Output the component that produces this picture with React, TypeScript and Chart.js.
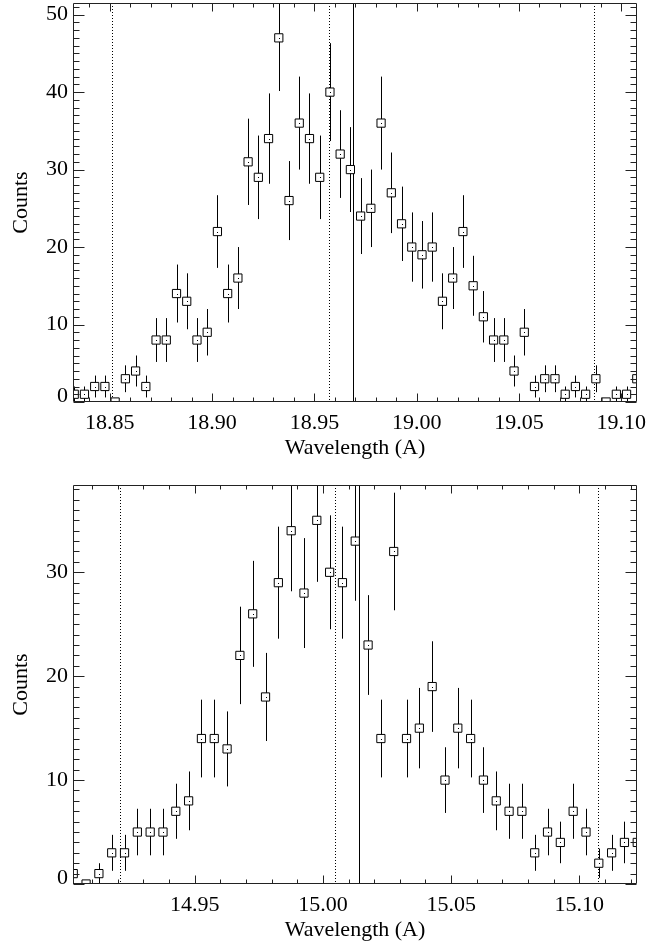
import React, { useEffect, useRef } from "react";
import { Chart, registerables } from "chart.js";

Chart.register(...registerables);

// ---------- data: O VIII panel (top) ----------
const WL_TOP = [
  18.8326, 18.8376, 18.8426, 18.8476, 18.8526, 18.8576, 18.8626, 18.8676, 18.8726, 18.8776,
  18.8826, 18.8876, 18.8926, 18.8976, 18.9026, 18.9076, 18.9126, 18.9176, 18.9226, 18.9276,
  18.9326, 18.9376, 18.9426, 18.9476, 18.9526, 18.9576, 18.9626, 18.9676, 18.9726, 18.9776,
  18.9826, 18.9876, 18.9926, 18.9976, 19.0026, 19.0076, 19.0126, 19.0176, 19.0226, 19.0276,
  19.0326, 19.0376, 19.0426, 19.0476, 19.0526, 19.0576, 19.0626, 19.0676, 19.0726, 19.0776,
  19.0826, 19.0876, 19.0926, 19.0976, 19.1026, 19.1076,
];
const COUNTS_TOP = [
  1, 1, 2, 2, 0, 3, 4, 2, 8, 8,
  14, 13, 8, 9, 22, 14, 16, 31, 29, 34,
  47, 26, 36, 34, 29, 40, 32, 30, 24, 25,
  36, 27, 23, 20, 19, 20, 13, 16, 22, 15,
  11, 8, 8, 4, 9, 2, 3, 3, 1, 2,
  1, 3, 0, 1, 1, 3,
];
const ERR_TOP = [
  1, 1, 1.41, 1.41, 0, 1.73, 2, 1.41, 2.83, 2.83,
  3.74, 3.61, 2.83, 3, 4.69, 3.74, 4, 5.57, 5.39, 5.83,
  6.86, 5.1, 6, 5.83, 5.39, 6.32, 5.66, 5.48, 4.9, 5,
  6, 5.2, 4.8, 4.47, 4.36, 4.47, 3.61, 4, 4.69, 3.87,
  3.32, 2.83, 2.83, 2, 3, 1.41, 1.73, 1.73, 1, 1.41,
  1, 1.73, 0, 1, 1, 1.73,
];
const XTICKS_TOP = [18.85, 18.9, 18.95, 19.0, 19.05, 19.1];
const YTICKS_TOP = [0, 10, 20, 30, 40, 50];
const DOTTED_TOP = [18.851, 18.9572, 19.0866];
const SOLID_TOP = [18.9688];

// ---------- data: Fe XVII panel (bottom) ----------
const WL_BOTTOM = [
  14.9026, 14.9076, 14.9126, 14.9176, 14.9226, 14.9276, 14.9326, 14.9376, 14.9426, 14.9476,
  14.9526, 14.9576, 14.9626, 14.9676, 14.9726, 14.9776, 14.9826, 14.9876, 14.9926, 14.9976,
  15.0026, 15.0076, 15.0126, 15.0176, 15.0226, 15.0276, 15.0326, 15.0376, 15.0426, 15.0476,
  15.0526, 15.0576, 15.0626, 15.0676, 15.0726, 15.0776, 15.0826, 15.0876, 15.0926, 15.0976,
  15.1026, 15.1076, 15.1126, 15.1176, 15.1226,
];
const COUNTS_BOTTOM = [
  1, 0, 1, 3, 3, 5, 5, 5, 7, 8,
  14, 14, 13, 22, 26, 18, 29, 34, 28, 35,
  30, 29, 33, 23, 14, 32, 14, 15, 19, 10,
  15, 14, 10, 8, 7, 7, 3, 5, 4, 7,
  5, 2, 3, 4, 4,
];
const ERR_BOTTOM = [
  1, 0, 1, 1.73, 1.73, 2.24, 2.24, 2.24, 2.65, 2.83,
  3.74, 3.74, 3.61, 4.69, 5.1, 4.24, 5.39, 5.83, 5.29, 5.92,
  5.48, 5.39, 5.74, 4.8, 3.74, 5.66, 3.74, 3.87, 4.36, 3.16,
  3.87, 3.74, 3.16, 2.83, 2.65, 2.65, 1.73, 2.24, 2, 2.65,
  2.24, 1.41, 1.73, 2, 2,
];
const XTICKS_BOTTOM = [14.95, 15.0, 15.05, 15.1];
const YTICKS_BOTTOM = [0, 10, 20, 30];
const DOTTED_BOTTOM = [14.921, 15.0048, 15.1072];
const SOLID_BOTTOM = [15.0142];

const FONT = "'Liberation Serif', 'Times New Roman', Times, serif";
const FONT_SIZE = 22;
const INK = "#000";
const AXIS = "#222";

type PanelProps = {
  wl: number[];
  counts: number[];
  err: number[];
  xTicks: number[];
  yTicks: number[];
  xMin: number;
  xMax: number;
  yMax: number;
  dotted: number[];
  solid: number[];
  top: number;
  height: number;
  areaTop: number;
  areaBottom: number;
  titlePad: number;
};

function Panel(p: PanelProps) {
  const ref = useRef<HTMLCanvasElement | null>(null);

  useEffect(() => {
    if (!ref.current) return;
    const W = 647;
    const H = p.height;

    const decor = {
      id: "panelDecor",
      beforeDatasetsDraw(chart: any) {
        const { ctx, chartArea: a, scales } = chart;
        const x = scales.x;
        const y = scales.y;
        ctx.save();
        ctx.beginPath();
        ctx.rect(a.left, a.top, a.right - a.left, a.bottom - a.top);
        ctx.clip();
        ctx.strokeStyle = INK;
        ctx.lineWidth = 1;
        // dotted reference lines
        ctx.setLineDash([1, 2]);
        p.dotted.forEach((v) => {
          const px = Math.round(x.getPixelForValue(v)) + 0.5;
          ctx.beginPath();
          ctx.moveTo(px, a.top);
          ctx.lineTo(px, a.bottom);
          ctx.stroke();
        });
        ctx.setLineDash([]);
        p.solid.forEach((v) => {
          const px = Math.round(x.getPixelForValue(v)) + 0.5;
          ctx.beginPath();
          ctx.moveTo(px, a.top);
          ctx.lineTo(px, a.bottom);
          ctx.stroke();
        });
        // error bars
        p.wl.forEach((w, i) => {
          const e = p.err[i];
          if (!e) return;
          const px = Math.round(x.getPixelForValue(w)) + 0.5;
          const y1 = y.getPixelForValue(p.counts[i] - e);
          const y2 = y.getPixelForValue(p.counts[i] + e);
          ctx.beginPath();
          ctx.moveTo(px, y1);
          ctx.lineTo(px, y2);
          ctx.stroke();
        });
        ctx.restore();
      },
      afterDatasetsDraw(chart: any) {
        const { ctx, chartArea: a, scales } = chart;
        const x = scales.x;
        const y = scales.y;
        ctx.save();
        ctx.beginPath();
        ctx.rect(a.left, a.top, a.right - a.left, a.bottom - a.top);
        ctx.clip();
        ctx.fillStyle = INK;
        p.wl.forEach((w, i) => {
          const px = Math.round(x.getPixelForValue(w));
          const py = Math.round(y.getPixelForValue(p.counts[i]));
          ctx.fillRect(px, py, 1, 1);
        });
        ctx.restore();
      },
      afterDraw(chart: any) {
        const { ctx, chartArea: a, scales } = chart;
        const x = scales.x;
        const y = scales.y;
        const L = a.left + 0.5;
        const R = a.right - 0.5;
        const T = a.top + 0.5;
        const B = a.bottom - 0.5;
        ctx.save();
        ctx.strokeStyle = AXIS;
        ctx.lineWidth = 1;
        ctx.beginPath();
        ctx.rect(L, T, R - L, B - T);
        ctx.stroke();
        // x ticks (bottom and top, inward)
        const xTick = (v: number, len: number) => {
          const px = Math.round(x.getPixelForValue(v)) + 0.5;
          ctx.beginPath();
          ctx.moveTo(px, B);
          ctx.lineTo(px, B - len);
          ctx.moveTo(px, T);
          ctx.lineTo(px, T + len);
          ctx.stroke();
        };
        const yTick = (v: number, len: number) => {
          const py = Math.round(y.getPixelForValue(v)) + 0.5;
          ctx.beginPath();
          ctx.moveTo(L, py);
          ctx.lineTo(L + len, py);
          ctx.moveTo(R, py);
          ctx.lineTo(R - len, py);
          ctx.stroke();
        };
        const xStart = Math.ceil(p.xMin * 100 - 1e-6);
        const xEnd = Math.floor(p.xMax * 100 + 1e-6);
        for (let k = xStart; k <= xEnd; k++) {
          const v = k / 100;
          const major = p.xTicks.some((t) => Math.abs(t - v) < 1e-6);
          xTick(v, major ? 8 : 4);
        }
        for (let k = 0; k <= Math.floor(p.yMax); k++) {
          const major = p.yTicks.includes(k);
          yTick(k, major ? 11 : 6);
        }
        // the lowest y label sits slightly above the axis
        ctx.fillStyle = INK;
        ctx.font = `${FONT_SIZE}px ${FONT}`;
        ctx.textAlign = "right";
        ctx.textBaseline = "middle";
        ctx.fillText(String(p.yTicks[0]), a.left - 5, y.getPixelForValue(p.yTicks[0]) - 6);
        ctx.restore();
      },
    };

    const font = { family: FONT, size: FONT_SIZE };

    const chart = new Chart(ref.current, {
      type: "scatter",
      data: {
        datasets: [
          {
            data: p.wl.map((w, i) => ({ x: w, y: p.counts[i] })),
            showLine: false,
            pointStyle: "rect",
            pointRadius: 5.8,
            pointHoverRadius: 5.8,
            pointBorderWidth: 1,
            borderColor: INK,
            backgroundColor: "#fff",
            pointBackgroundColor: "#fff",
            pointBorderColor: INK,
          },
        ],
      },
      options: {
        animation: false,
        responsive: false,
        devicePixelRatio: 1,
        events: [],
        layout: {
          autoPadding: false,
          padding: { top: p.areaTop, right: W - 637, left: 0, bottom: 0 },
        },
        plugins: {
          legend: { display: false },
          tooltip: { enabled: false },
        },
        scales: {
          x: {
            type: "linear",
            min: p.xMin,
            max: p.xMax,
            afterBuildTicks: (s: any) => {
              s.ticks = p.xTicks.map((v) => ({ value: v }));
            },
            afterFit: (s: any) => {
              s.height = H - p.areaBottom;
              s.paddingLeft = 0;
              s.paddingRight = 0;
              s.paddingTop = 0;
              s.paddingBottom = 0;
            },
            grid: { display: false, drawTicks: false },
            border: { display: false },
            ticks: {
              font,
              color: INK,
              padding: 8,
              maxRotation: 0,
              autoSkip: false,
              includeBounds: false,
              callback: (v: any) => Number(v).toFixed(2),
            },
            title: {
              display: true,
              text: "Wavelength (A)",
              font,
              color: INK,
              padding: { top: 0, bottom: p.titlePad },
            },
          },
          y: {
            type: "linear",
            min: 0,
            max: p.yMax,
            afterBuildTicks: (s: any) => {
              s.ticks = p.yTicks.map((v) => ({ value: v }));
            },
            afterFit: (s: any) => {
              s.width = 73;
              s.paddingLeft = 0;
              s.paddingRight = 0;
              s.paddingTop = 0;
              s.paddingBottom = 0;
            },
            grid: { display: false, drawTicks: false },
            border: { display: false },
            ticks: {
              font,
              color: INK,
              padding: 5,
              autoSkip: false,
              includeBounds: false,
              callback: (v: any) => (Number(v) === p.yTicks[0] ? "" : String(v)),
            },
            title: {
              display: true,
              text: "Counts",
              font,
              color: INK,
              padding: { top: 8, bottom: 0 },
            },
          },
        },
      },
      plugins: [decor],
    } as any);

    return () => chart.destroy();
  }, []);

  return (
    <div style={{ position: "absolute", left: 0, top: p.top, width: 647, height: p.height }}>
      <canvas ref={ref} width={647} height={p.height} style={{ width: 647, height: p.height, display: "block" }} />
    </div>
  );
}

export default function App() {
  return (
    <div style={{ position: "absolute", left: 0, top: 0, width: 647, height: 947, background: "#fff" }}>
      <Panel
        wl={WL_TOP}
        counts={COUNTS_TOP}
        err={ERR_TOP}
        xTicks={XTICKS_TOP}
        yTicks={YTICKS_TOP}
        xMin={18.832}
        xMax={19.1077}
        yMax={51.5}
        dotted={DOTTED_TOP}
        solid={SOLID_TOP}
        top={0}
        height={470}
        areaTop={3}
        areaBottom={402}
        titlePad={9}
      />
      <Panel
        wl={WL_BOTTOM}
        counts={COUNTS_BOTTOM}
        err={ERR_BOTTOM}
        xTicks={XTICKS_BOTTOM}
        yTicks={YTICKS_BOTTOM}
        xMin={14.9025}
        xMax={15.1225}
        yMax={38.4}
        dotted={DOTTED_BOTTOM}
        solid={SOLID_BOTTOM}
        top={470}
        height={477}
        areaTop={15}
        areaBottom={414}
        titlePad={4}
      />
    </div>
  );
}
